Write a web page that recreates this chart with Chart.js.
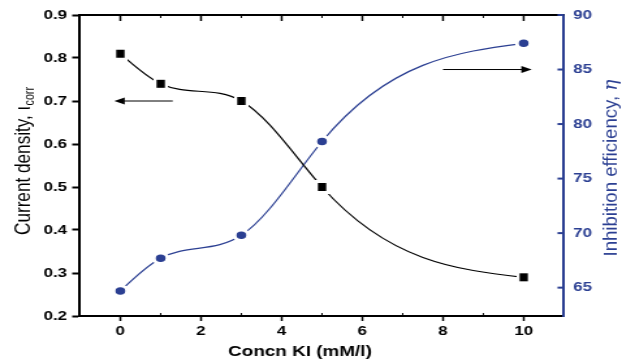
<!DOCTYPE html>
<html>
<head>
<meta charset="utf-8">
<script src="https://cdn.jsdelivr.net/npm/chart.js@4/dist/chart.umd.min.js"></script>
<style>
  html, body { margin: 0; padding: 0; background: #fff; overflow: hidden; }
  #kiChart { display: block; }
</style>
</head>
<body>
<!-- the original figure is stretched sideways, so the canvas is drawn narrow and widened by css -->
<canvas id="kiChart" width="478" height="359" style="width:622px;height:359px"></canvas>
<script>
// concentration of KI (mM/l)
const concn = [0, 1, 3, 5, 10];
// corrosion current density (left axis)
const currentDensity = [0.81, 0.74, 0.70, 0.50, 0.29];
// inhibition efficiency (right axis)
const efficiency = [64.7, 67.7, 69.8, 78.4, 87.4];

const xTicks = [0, 2, 4, 6, 8, 10];
const xMinorTicks = [1, 3, 5, 7, 9];
const leftTicks = [0.2, 0.3, 0.4, 0.5, 0.6, 0.7, 0.8, 0.9];
const rightTicks = [65, 70, 75, 80, 85, 90];

// arrows pointing at the axis each curve belongs to (data units)
const leftArrow = { from: 1.3, to: -0.15, y: 0.70 };
const rightArrow = { from: 8.0, to: 10.2, y: 85 };

const STRETCH = 622 / 478;
const BLUE = '#2b3f92';
const FONT = 'Arial, "Liberation Sans", sans-serif';
const tickFont = { family: FONT, size: 13, weight: 'bold' };

function toPoints(xs, ys) {
    return xs.map(function (x, i) { return { x: x, y: ys[i] }; });
}

// square marker with a white halo, pre-squeezed so it ends up square after the css stretch
function squareMarker() {
    var c = document.createElement('canvas');
    c.width = 11;
    c.height = 14;
    var g = c.getContext('2d');
    g.fillStyle = '#fff';
    g.fillRect(0, 0, 11, 14);
    g.fillStyle = '#000';
    g.fillRect(2.3, 3, 6.4, 8);
    return c;
}

// the original curves are natural cubic splines: set the bezier control points of
// the chart.js line from the spline slopes (computed on the pixel positions)
function applyNaturalSpline(pts) {
    var n = pts.length;
    if (n < 3) return;
    var h = [], d = [];
    for (var i = 0; i < n - 1; i++) {
        h.push(pts[i + 1].x - pts[i].x);
        d.push((pts[i + 1].y - pts[i].y) / h[i]);
    }
    // tridiagonal system for second derivatives, M[0] = M[n-1] = 0
    var a = [], b = [], c = [], r = [];
    for (var k = 1; k < n - 1; k++) {
        a.push(h[k - 1]);
        b.push(2 * (h[k - 1] + h[k]));
        c.push(h[k]);
        r.push(6 * (d[k] - d[k - 1]));
    }
    var m = r.length;
    for (var j = 1; j < m; j++) {
        var w = a[j] / b[j - 1];
        b[j] -= w * c[j - 1];
        r[j] -= w * r[j - 1];
    }
    var inner = new Array(m);
    inner[m - 1] = r[m - 1] / b[m - 1];
    for (var q = m - 2; q >= 0; q--) {
        inner[q] = (r[q] - c[q] * inner[q + 1]) / b[q];
    }
    var M = [0].concat(inner, [0]);
    for (var s = 0; s < n - 1; s++) {
        var left = d[s] - h[s] * (2 * M[s] + M[s + 1]) / 6;
        var right = d[s] + h[s] * (M[s] + 2 * M[s + 1]) / 6;
        pts[s].cp2x = pts[s].x + h[s] / 3;
        pts[s].cp2y = pts[s].y + left * h[s] / 3;
        pts[s + 1].cp1x = pts[s + 1].x - h[s] / 3;
        pts[s + 1].cp1y = pts[s + 1].y - right * h[s] / 3;
    }
}

const splinePlugin = {
    id: 'naturalSpline',
    beforeDatasetDraw: function (chart, args) {
        var meta = args.meta;
        var line = meta.dataset;
        if (!line) return;
        line.updateControlPoints(chart.chartArea, 'x');
        applyNaturalSpline(meta.data);
        line._path = undefined;
    }
};

function drawArrow(ctx, x1, x2, y) {
    var dir = x2 > x1 ? 1 : -1;
    ctx.beginPath();
    ctx.moveTo(x1, y);
    ctx.lineTo(x2 - dir * 5, y);
    ctx.stroke();
    ctx.beginPath();
    ctx.moveTo(x2, y);
    ctx.lineTo(x2 - dir * 8, y - 3.5);
    ctx.lineTo(x2 - dir * 8, y + 3.5);
    ctx.closePath();
    ctx.fill();
}

// rotated title, squeezed or stretched along its length to hit a target length
function drawVerticalTitle(ctx, parts, cx, cy, length, color) {
    var total = 0;
    parts.forEach(function (p) {
        ctx.font = p.font;
        p.w = ctx.measureText(p.text).width;
        total += p.w + (p.gap || 0);
    });
    ctx.save();
    ctx.translate(cx, cy);
    ctx.rotate(-Math.PI / 2);
    ctx.scale(length / total, 1);
    ctx.fillStyle = color;
    ctx.textAlign = 'left';
    ctx.textBaseline = 'alphabetic';
    var x = -total / 2;
    parts.forEach(function (p) {
        x += (p.gap || 0);
        ctx.font = p.font;
        ctx.fillText(p.text, x, p.dy || 0);
        x += p.w;
    });
    ctx.restore();
}

// draws the top frame, inner ticks, arrows and axis titles
const decorPlugin = {
    id: 'decor',
    afterDraw: function (chart) {
        var ctx = chart.ctx;
        var area = chart.chartArea;
        var xs = chart.scales.x, yl = chart.scales.y, yr = chart.scales.y1;
        ctx.save();

        // top frame line
        ctx.strokeStyle = '#000';
        ctx.lineWidth = 2;
        ctx.beginPath();
        ctx.moveTo(area.left - 1, area.top);
        ctx.lineTo(area.right, area.top);
        ctx.stroke();

        // top ticks (inward) and minor ticks on both x edges
        ctx.lineWidth = 1.5;
        xTicks.forEach(function (v) {
            var px = xs.getPixelForValue(v);
            ctx.beginPath();
            ctx.moveTo(px, area.top);
            ctx.lineTo(px, area.top + 6);
            ctx.stroke();
        });
        ctx.lineWidth = 1;
        xMinorTicks.forEach(function (v) {
            var px = xs.getPixelForValue(v);
            ctx.beginPath();
            ctx.moveTo(px, area.top);
            ctx.lineTo(px, area.top + 3);
            ctx.moveTo(px, area.bottom);
            ctx.lineTo(px, area.bottom - 3);
            ctx.stroke();
        });

        // right axis ticks (inward)
        ctx.strokeStyle = BLUE;
        ctx.lineWidth = 2;
        rightTicks.forEach(function (v) {
            var py = yr.getPixelForValue(v);
            ctx.beginPath();
            ctx.moveTo(area.right, py);
            ctx.lineTo(area.right - 5, py);
            ctx.stroke();
        });

        // arrows
        ctx.strokeStyle = '#000';
        ctx.fillStyle = '#000';
        ctx.lineWidth = 1;
        drawArrow(ctx, xs.getPixelForValue(leftArrow.from), xs.getPixelForValue(leftArrow.to), yl.getPixelForValue(leftArrow.y));
        drawArrow(ctx, xs.getPixelForValue(rightArrow.from), xs.getPixelForValue(rightArrow.to), yr.getPixelForValue(rightArrow.y));

        // axis titles
        drawVerticalTitle(ctx, [
            { text: 'Current density, \u03b9', font: '16px ' + FONT },
            { text: 'corr', font: '10px ' + FONT, dy: 3, gap: 1 }
        ], 29 / STRETCH + 0.5, 161, 148, '#000');

        drawVerticalTitle(ctx, [
            { text: 'Inhibition efficiency, ', font: '14px ' + FONT },
            { text: '\u03b7', font: 'italic 14px "DejaVu Serif", serif' }
        ], 617 / STRETCH, 168, 177, BLUE);

        ctx.fillStyle = '#000';
        ctx.font = 'bold 14.5px ' + FONT;
        ctx.textAlign = 'center';
        ctx.textBaseline = 'middle';
        ctx.fillText('Concn KI (mM/l)', 300 / STRETCH, 352);

        ctx.restore();
    }
};

const ctx = document.getElementById('kiChart').getContext('2d');

new Chart(ctx, {
    type: 'line',
    data: {
        datasets: [{
            label: 'Current density',
            data: toPoints(concn, currentDensity),
            yAxisID: 'y',
            borderColor: '#000',
            borderWidth: 1.2,
            backgroundColor: '#000',
            pointStyle: squareMarker(),
            pointRadius: 6,
            tension: 0.4,
            fill: false
        }, {
            label: 'Inhibition efficiency',
            data: toPoints(concn, efficiency),
            yAxisID: 'y1',
            borderColor: BLUE,
            borderWidth: 1.2,
            backgroundColor: BLUE,
            pointStyle: 'circle',
            pointRadius: 5.25,
            pointBorderWidth: 3,
            pointBorderColor: '#fff',
            pointBackgroundColor: BLUE,
            tension: 0.4,
            fill: false
        }]
    },
    options: {
        responsive: false,
        animation: false,
        devicePixelRatio: 1,
        layout: { padding: { top: 15, left: 0, right: 0, bottom: 0 } },
        plugins: {
            legend: { display: false },
            tooltip: { enabled: false },
            title: { display: false }
        },
        scales: {
            x: {
                type: 'linear',
                min: -1,
                max: 11,
                afterBuildTicks: function (scale) {
                    scale.ticks = xTicks.map(function (v) { return { value: v }; });
                },
                afterFit: function (scale) { scale.height = 43; },
                border: { color: '#000', width: 2 },
                grid: { drawOnChartArea: false, tickLength: 5, tickWidth: 1.5, tickColor: '#000' },
                ticks: { color: '#000', font: tickFont, padding: 3, maxRotation: 0 }
            },
            y: {
                position: 'left',
                min: 0.2,
                max: 0.9,
                afterBuildTicks: function (scale) {
                    scale.ticks = leftTicks.map(function (v) { return { value: v }; });
                },
                afterFit: function (scale) { scale.width = 80 / STRETCH; },
                border: { color: '#000', width: 2 },
                grid: { drawOnChartArea: false, tickLength: 6, tickWidth: 2, tickColor: '#000' },
                ticks: {
                    color: '#000',
                    font: tickFont,
                    padding: 4,
                    callback: function (value) { return value.toFixed(1); }
                }
            },
            y1: {
                position: 'right',
                min: 62.4,
                max: 90,
                afterBuildTicks: function (scale) {
                    scale.ticks = rightTicks.map(function (v) { return { value: v }; });
                },
                afterFit: function (scale) { scale.width = 478 - 564 / STRETCH; },
                border: { color: BLUE, width: 2 },
                grid: { display: false, drawTicks: false },
                ticks: { color: BLUE, font: tickFont, padding: 7 }
            }
        }
    },
    plugins: [splinePlugin, decorPlugin]
});
</script>
</body>
</html>
